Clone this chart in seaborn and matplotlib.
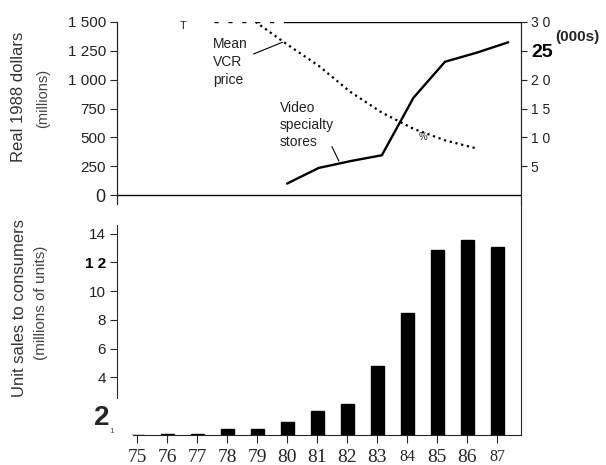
import matplotlib
matplotlib.use("Agg")
import matplotlib.pyplot as plt
import seaborn as sns
import pandas as pd

# Dados
anos = [75, 76, 77, 78, 79, 80, 81, 82, 83, 84, 85, 86, 87]
vendas_unidades = [0.03, 0.04, 0.06, 0.42, 0.42, 0.89, 1.65, 2.14, 4.8, 8.5, 12.85, 13.55, 13.1]

anos_lojas = [80, 81, 82, 83, 84, 85, 86, 87]
receita_lojas = [101, 236, 295, 346, 843, 1155, 1233, 1323]

anos_preco = [79, 80, 81, 82, 83, 84, 85, 86]
preco_vcr = [30, 26.1, 22.4, 17.9, 14.3, 11.5, 9.5, 8.1]

ticks_esq = [0, 250, 500, 750, 1000, 1250, 1500]
rotulos_esq = ["0", "250", "500", "750", "1 000", "1 250", "1 500"]
ticks_dir = [5, 10, 15, 20, 25, 30]
rotulos_dir = ["5", "1 0", "1 5", "2 0", "25", "3 0"]
ticks_barras = [4, 6, 8, 10, 12, 14]
rotulos_barras = ["4", "6", "8", "10", "1 2", "14"]

sns.set_style("ticks")
fonte = ["Liberation Sans Narrow", "Liberation Sans", "DejaVu Sans"]
plt.rcParams["font.family"] = fonte

fig = plt.figure(figsize=(6.06, 4.65), dpi=100)

# Painel superior: receita das lojas e preço médio
ax_top = fig.add_axes([0.193, 0.559, 0.667, 0.394])
ax_top.set_xlim(74.615, 87.41)
ax_top.set_ylim(-85, 1500)
df_lojas = pd.DataFrame({"ano": anos_lojas, "receita": receita_lojas})
sns.lineplot(data=df_lojas, x="ano", y="receita", ax=ax_top, color="black", lw=1.7)
ax_top.axhline(0, color="black", lw=1.0)
ax_top.axhline(1500, xmin=0.42, xmax=1, color="black", lw=1.0)
ax_top.axhline(1500, xmin=0.24, xmax=0.42, color="black", lw=1.0, ls=(0, (3, 7)))
ax_top.set_yticks(ticks_esq)
ax_top.set_yticklabels(rotulos_esq, fontsize=11, color="#222222")
ax_top.set_xticks([])
ax_top.set_xlabel("")
ax_top.set_ylabel("")
ax_top.spines["top"].set_visible(False)
ax_top.spines["bottom"].set_visible(False)
ax_top.spines["left"].set_bounds(-85, 1500)
ax_top.spines["left"].set_linewidth(0.8)
ax_top.tick_params(axis="y", length=5, width=0.8, pad=3)
for lab in ax_top.get_yticklabels():
    if lab.get_text() == "0":
        lab.set_fontsize(13)

ax_r = ax_top.twinx()
ax_r.set_ylim(-1.7, 30)
df_preco = pd.DataFrame({"ano": anos_preco, "preco": preco_vcr})
sns.lineplot(data=df_preco, x="ano", y="preco", ax=ax_r, color="black", lw=1.6, ls=":")
ax_r.set_yticks(ticks_dir)
ax_r.set_yticklabels(rotulos_dir, fontsize=10, color="#222222")
ax_r.set_ylabel("")
ax_r.spines["top"].set_visible(False)
ax_r.spines["bottom"].set_visible(False)
ax_r.tick_params(axis="y", length=4, width=0.8, pad=3)
for lab in ax_r.get_yticklabels():
    if lab.get_text() == "25":
        lab.set_fontsize(14)
        lab.set_fontweight("bold")
        lab.set_color("black")

ax_top.text(77.66, 1365, "Mean\nVCR\nprice", fontsize=10, va="top", ha="left",
            linespacing=1.35, color="#222222")
ax_top.annotate("", xy=(79.85, 1323), xytext=(78.94, 1222),
                arrowprops=dict(arrowstyle="-", color="black", lw=0.8,
                                shrinkA=0, shrinkB=0))
ax_top.text(79.78, 818, "Video\nspecialty\nstores", fontsize=10, va="top", ha="left",
            linespacing=1.3, color="#222222")
ax_top.annotate("", xy=(81.64, 295), xytext=(81.42, 421),
                arrowprops=dict(arrowstyle="-", color="black", lw=0.8,
                                shrinkA=0, shrinkB=0))
ax_top.text(84.31, 506, "%", fontsize=7, ha="center", va="center")
fig.text(0.302, 0.945, "T", fontsize=8, ha="center", va="center")

# Painel inferior: vendas de unidades
ax_bot = fig.add_axes([0.193, 0.0645, 0.667, 0.495])
df_vendas = pd.DataFrame({"ano": anos, "vendas": vendas_unidades})
sns.barplot(data=df_vendas, x="ano", y="vendas", ax=ax_bot, color="black",
            native_scale=True, width=0.43, saturation=1, edgecolor="black")
ax_bot.set_xlim(74.33, 87.8)
ax_bot.set_ylim(0, 16.0)
ax_bot.set_xticks(anos)
ax_bot.set_xticklabels([str(a) for a in anos], fontsize=14,
                       family=["Liberation Serif", "DejaVu Serif"])
for lab in ax_bot.get_xticklabels():
    if lab.get_text() in ("84", "87"):
        lab.set_fontsize(11.5)
ax_bot.set_yticks(ticks_barras)
ax_bot.set_yticklabels(rotulos_barras, fontsize=11, color="#222222")
for lab in ax_bot.get_yticklabels():
    if lab.get_text() == "1 2":
        lab.set_fontweight("bold")
        lab.set_color("black")
ax_bot.set_xlabel("")
ax_bot.set_ylabel("")
ax_bot.spines["top"].set_visible(False)
ax_bot.spines["left"].set_bounds(2.6, 14.6)
ax_bot.spines["left"].set_linewidth(0.8)
ax_bot.spines["bottom"].set_bounds(74.87, 87.8)
ax_bot.tick_params(axis="x", length=6, width=0.8, pad=4)
ax_bot.tick_params(axis="y", length=5, width=0.8, pad=3)

fig.text(0.168, 0.101, "2", fontsize=20, fontweight="bold", ha="center", va="center")
fig.text(0.185, 0.072, "1", fontsize=6, ha="center", va="center", color="#555555")

# Rótulos dos eixos
fig.text(0.030, 0.791, "Real 1988 dollars", rotation=90, fontsize=12,
         ha="center", va="center", color="#333333")
fig.text(0.071, 0.789, "(millions)", rotation=90, fontsize=10.5,
         ha="center", va="center", color="#444444")
fig.text(0.032, 0.338, "Unit sales to consumers", rotation=90, fontsize=12,
         ha="center", va="center", color="#333333")
fig.text(0.068, 0.349, "(millions of units)", rotation=90, fontsize=11,
         ha="center", va="center", color="#444444")
fig.text(0.953, 0.920, "(000s)", fontsize=11, fontweight="bold", ha="center", va="center")

fig.savefig("out.png", dpi=100)
